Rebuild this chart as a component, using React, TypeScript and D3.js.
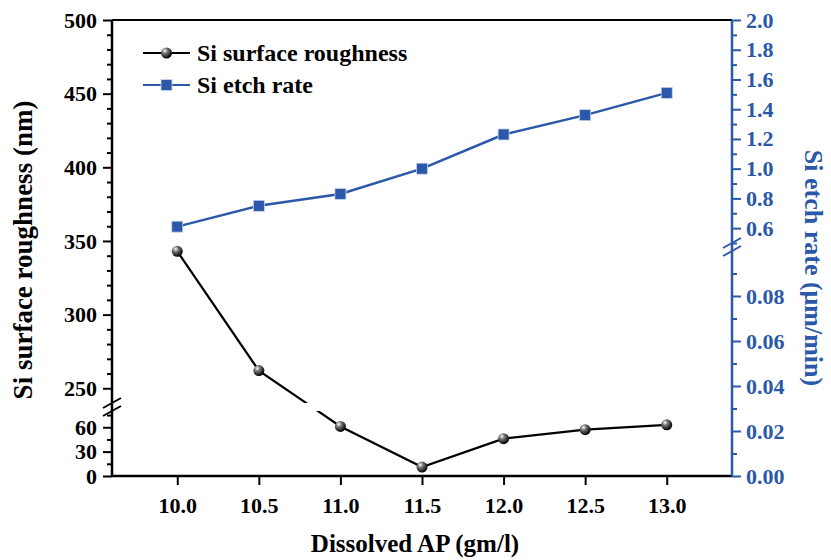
import React from "react";
import * as d3 from "d3";

// Dissolved AP concentration (gm/l)
const apConc = [10.0, 10.5, 11.0, 11.5, 12.0, 12.5, 13.0];
// Si surface roughness (nm)
const roughness = [343, 262, 61, 11, 46, 57, 63];
// Si etch rate (um/min)
const etchRate = [0.61, 0.75, 0.83, 1.0, 1.23, 1.36, 1.51];

const xTicks = [10.0, 10.5, 11.0, 11.5, 12.0, 12.5, 13.0];
const roughUpperTicks = [250, 300, 350, 400, 450, 500];
const roughLowerTicks = [0, 30, 60];
const etchUpperTicks = [0.6, 0.8, 1.0, 1.2, 1.4, 1.6, 1.8, 2.0];
const etchLowerTicks = [0, 0.02, 0.04, 0.06, 0.08];

const BLUE = "#2b58a8";
const FONT = "'Liberation Serif', 'Times New Roman', serif";

const Chart = () => {
  const svgRef = React.useRef<SVGSVGElement | null>(null);

  const width = 831;
  const height = 560;
  const left = 112;
  const right = 732;
  const top = 20;
  const bottom = 476;
  const roughBreak = [403, 411]; // upper panel bottom, lower panel top
  const etchBreak = [243, 251];

  React.useEffect(() => {
    drawChart(svgRef);
  }, [svgRef]);

  function drawChart(ref: React.MutableRefObject<SVGSVGElement | null>) {
    const svg = d3.select(ref.current);
    svg.selectAll("*").remove();

    const x = d3.scaleLinear().domain([9.6, 13.4]).range([left, right]);
    const yRoughUp = d3.scaleLinear().domain([240, 500]).range([roughBreak[0], top]);
    const yRoughLow = d3.scaleLinear().domain([0, 80]).range([bottom, roughBreak[1]]);
    const yEtchUp = d3.scaleLinear().domain([0.5, 2.0]).range([etchBreak[0], top]);
    const yEtchLow = d3.scaleLinear().domain([0, 0.1]).range([bottom, etchBreak[1]]);

    const yRough = (v: number) => (v >= 240 ? yRoughUp(v) : yRoughLow(v));
    const yEtch = (v: number) => (v >= 0.5 ? yEtchUp(v) : yEtchLow(v));

    const defs = svg.append("defs");
    const grad = defs
      .append("radialGradient")
      .attr("id", "ball")
      .attr("cx", "35%")
      .attr("cy", "30%")
      .attr("r", "70%");
    grad.append("stop").attr("offset", "0%").attr("stop-color", "#ffffff");
    grad.append("stop").attr("offset", "35%").attr("stop-color", "#777777");
    grad.append("stop").attr("offset", "100%").attr("stop-color", "#000000");

    defs
      .append("clipPath")
      .attr("id", "clipUp")
      .append("rect")
      .attr("x", 0)
      .attr("y", 0)
      .attr("width", width)
      .attr("height", roughBreak[0]);
    defs
      .append("clipPath")
      .attr("id", "clipLow")
      .append("rect")
      .attr("x", 0)
      .attr("y", roughBreak[1])
      .attr("width", width)
      .attr("height", height - roughBreak[1]);

    // frame: top
    svg
      .append("line")
      .attr("x1", left)
      .attr("x2", right)
      .attr("y1", top)
      .attr("y2", top)
      .attr("stroke", "#000")
      .attr("stroke-width", 2);

    const styleAxis = (g: any, color: string, size: number) => {
      g.select(".domain").remove();
      g.selectAll("line").attr("stroke", color).attr("stroke-width", 2);
      g.selectAll("text")
        .attr("fill", color)
        .style("font-family", FONT)
        .style("font-weight", "bold")
        .style("font-size", `${size}px`);
    };

    // x axis
    const gx = svg
      .append("g")
      .attr("transform", `translate(0,${bottom})`)
      .call(
        d3
          .axisBottom(x)
          .tickValues(xTicks)
          .tickSize(9)
          .tickPadding(12)
          .tickFormat(d3.format(".1f") as any)
      );
    styleAxis(gx, "#000", 22);
    svg
      .append("line")
      .attr("x1", left)
      .attr("x2", right)
      .attr("y1", bottom)
      .attr("y2", bottom)
      .attr("stroke", "#000")
      .attr("stroke-width", 2.5);

    // left axis (broken)
    const leftAxes: [any, number[], number[]][] = [
      [yRoughUp, roughUpperTicks, d3.range(250, 500, 10).filter((v) => v % 50 !== 0)],
      [yRoughLow, roughLowerTicks, [15, 45, 75]],
    ];
    leftAxes.forEach(([scale, major, minor]) => {
      const gMinor = svg
        .append("g")
        .attr("transform", `translate(${left},0)`)
        .call(d3.axisLeft(scale).tickValues(minor).tickSize(5).tickFormat(() => ""));
      styleAxis(gMinor, "#000", 22);
      const gMajor = svg
        .append("g")
        .attr("transform", `translate(${left},0)`)
        .call(d3.axisLeft(scale).tickValues(major).tickSize(9).tickPadding(6));
      styleAxis(gMajor, "#000", 22);
    });
    svg
      .append("line")
      .attr("x1", left)
      .attr("x2", left)
      .attr("y1", top)
      .attr("y2", bottom)
      .attr("stroke", "#000")
      .attr("stroke-width", 2.5);

    // right axis (broken)
    const rightAxes: [any, number[], number[], string][] = [
      [yEtchUp, etchUpperTicks, d3.range(5, 20, 2).map((v) => v / 10), ".1f"],
      [yEtchLow, etchLowerTicks, [0.01, 0.03, 0.05, 0.07, 0.09], ".2f"],
    ];
    rightAxes.forEach(([scale, major, minor, fmt]) => {
      const gMinor = svg
        .append("g")
        .attr("transform", `translate(${right},0)`)
        .call(d3.axisRight(scale).tickValues(minor).tickSize(5).tickFormat(() => ""));
      styleAxis(gMinor, BLUE, 22);
      const gMajor = svg
        .append("g")
        .attr("transform", `translate(${right},0)`)
        .call(
          d3
            .axisRight(scale)
            .tickValues(major)
            .tickSize(9)
            .tickPadding(5)
            .tickFormat(d3.format(fmt) as any)
        );
      styleAxis(gMajor, BLUE, 22);
    });
    svg
      .append("line")
      .attr("x1", right)
      .attr("x2", right)
      .attr("y1", top)
      .attr("y2", bottom)
      .attr("stroke", BLUE)
      .attr("stroke-width", 2.5);

    // break marks
    const breakMark = (cx: number, cy: number, color: string) => {
      [-4, 4].forEach((dy) => {
        svg
          .append("line")
          .attr("x1", cx - 9)
          .attr("y1", cy + dy + 5)
          .attr("x2", cx + 9)
          .attr("y2", cy + dy - 5)
          .attr("stroke", color)
          .attr("stroke-width", 2);
      });
    };
    breakMark(left, (roughBreak[0] + roughBreak[1]) / 2, "#000");
    breakMark(right, (etchBreak[0] + etchBreak[1]) / 2, BLUE);

    // roughness line, clipped at the axis break
    const idx = d3.range(apConc.length);
    const roughLine = d3
      .line<number>()
      .x((i) => x(apConc[i]))
      .y((i) => yRough(roughness[i]));
    ["clipUp", "clipLow"].forEach((c) => {
      svg
        .append("path")
        .attr("d", roughLine(idx))
        .attr("fill", "none")
        .attr("stroke", "#000")
        .attr("stroke-width", 2.2)
        .attr("clip-path", `url(#${c})`);
    });

    const etchLine = d3
      .line<number>()
      .x((i) => x(apConc[i]))
      .y((i) => yEtch(etchRate[i]));
    svg
      .append("path")
      .attr("d", etchLine(idx))
      .attr("fill", "none")
      .attr("stroke", BLUE)
      .attr("stroke-width", 2.5);

    // markers
    svg
      .selectAll(".ball")
      .data(idx)
      .enter()
      .append("circle")
      .attr("cx", (i) => x(apConc[i]))
      .attr("cy", (i) => yRough(roughness[i]))
      .attr("r", 5.5)
      .attr("fill", "url(#ball)");

    svg
      .selectAll(".sq")
      .data(idx)
      .enter()
      .append("rect")
      .attr("x", (i) => x(apConc[i]) - 5.5)
      .attr("y", (i) => yEtch(etchRate[i]) - 5.5)
      .attr("width", 11)
      .attr("height", 11)
      .attr("fill", BLUE)
      .attr("stroke", "#c8d4ec")
      .attr("stroke-width", 0.8);

    // legend
    const legend = svg.append("g").attr("transform", "translate(143,53)");
    const items = [
      { label: "Si surface roughness", color: "#000", kind: "ball" },
      { label: "Si etch rate", color: BLUE, kind: "sq" },
    ];
    items.forEach((it, k) => {
      const g = legend.append("g").attr("transform", `translate(0,${k * 32})`);
      g.append("line")
        .attr("x1", 0)
        .attr("x2", 47)
        .attr("y1", 0)
        .attr("y2", 0)
        .attr("stroke", it.color)
        .attr("stroke-width", 2.2);
      if (it.kind === "ball") {
        g.append("circle").attr("cx", 23.5).attr("cy", 0).attr("r", 5.5).attr("fill", "url(#ball)");
      } else {
        g.append("rect")
          .attr("x", 18)
          .attr("y", -5.5)
          .attr("width", 11)
          .attr("height", 11)
          .attr("fill", BLUE)
          .attr("stroke", "#c8d4ec")
          .attr("stroke-width", 0.8);
      }
      g.append("text")
        .attr("x", 54)
        .attr("y", 8)
        .text(it.label)
        .style("font-family", FONT)
        .style("font-weight", "bold")
        .style("font-size", "24px")
        .attr("fill", "#000");
    });

    // axis titles
    svg
      .append("text")
      .attr("x", 415)
      .attr("y", 552)
      .attr("text-anchor", "middle")
      .text("Dissolved AP (gm/l)")
      .style("font-family", FONT)
      .style("font-weight", "bold")
      .style("font-size", "25px");

    svg
      .append("text")
      .attr("transform", `translate(32,250) rotate(-90)`)
      .attr("text-anchor", "middle")
      .text("Si surface roughness (nm)")
      .style("font-family", FONT)
      .style("font-weight", "bold")
      .style("font-size", "27px");

    svg
      .append("text")
      .attr("transform", `translate(805,268) rotate(90)`)
      .attr("text-anchor", "middle")
      .attr("fill", BLUE)
      .text("Si etch rate (\u03bcm/min)")
      .style("font-family", FONT)
      .style("font-weight", "bold")
      .style("font-size", "26px");
  }

  return (
    <svg
      width={width}
      height={height}
      ref={svgRef}
      style={{ position: "absolute", left: 0, top: 0, background: "#fff" }}
    />
  );
};

export default function App() {
  return <Chart />;
}
